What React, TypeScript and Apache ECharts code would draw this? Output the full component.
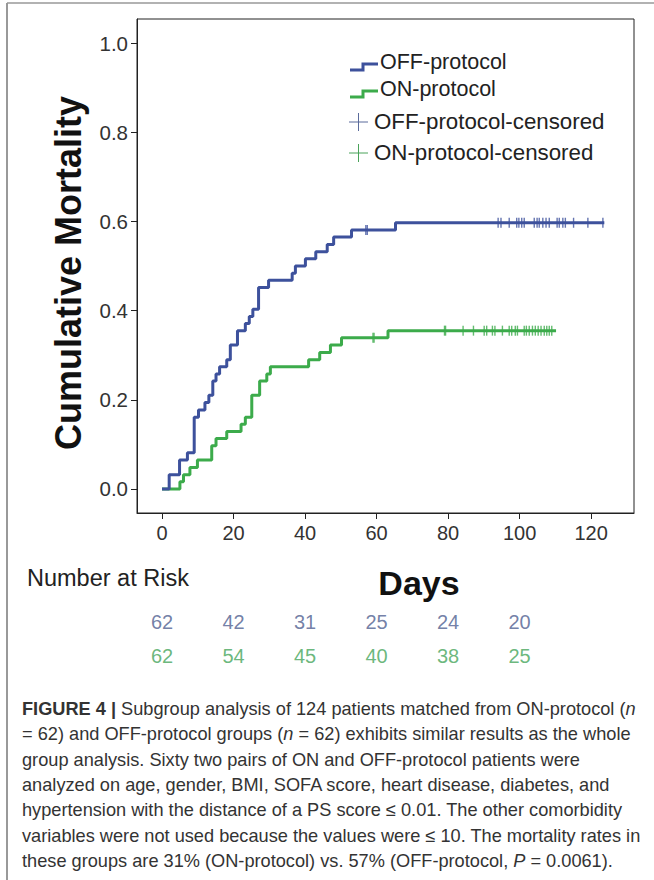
import React, { useEffect, useRef } from "react";
import * as echarts from "echarts";

// ---- Data ----
const X_TICKS = [0, 20, 40, 60, 80, 100, 120];
const Y_TICKS = [0, 0.2, 0.4, 0.6, 0.8, 1.0];

// OFF-protocol Kaplan-Meier cumulative mortality (step at event days)
const offDays = [0, 2.0, 4.9, 7.1, 9.0, 10.2, 12.0, 13.1, 14.2, 15.1, 16.1, 18.1, 19.1, 21.1, 23.3, 24.4, 25.4, 27.0, 29.8, 36.4, 37.3, 40.1, 43.0, 46.2, 48.0, 53.0, 65.3, 123.7];
const offMortality = [0, 0.032, 0.065, 0.081, 0.161, 0.177, 0.194, 0.21, 0.242, 0.258, 0.274, 0.29, 0.323, 0.355, 0.371, 0.387, 0.403, 0.452, 0.468, 0.484, 0.5, 0.516, 0.532, 0.548, 0.565, 0.581, 0.597, 0.597];

// ON-protocol
const onDays = [0, 5.0, 6.0, 7.8, 9.9, 13.9, 15.1, 18.1, 22.1, 23.3, 25.1, 27.3, 29.3, 30.3, 41.0, 44.1, 47.1, 50.2, 63.2, 110.2];
const onMortality = [0, 0.016, 0.032, 0.048, 0.065, 0.097, 0.113, 0.129, 0.145, 0.161, 0.21, 0.242, 0.258, 0.274, 0.29, 0.306, 0.323, 0.339, 0.355, 0.355];

// Censored observations (day, cumulative mortality at that time)
const offCensoredDays = [57.0, 57.4, 94.0, 94.8, 97.1, 99.2, 99.8, 100.6, 101.3, 104.1, 104.9, 105.5, 106.5, 107.4, 108.3, 110.5, 111.1, 112.1, 112.8, 115.1, 119.1, 123.3];
const offCensoredLevel = [0.581, 0.581, 0.597, 0.597, 0.597, 0.597, 0.597, 0.597, 0.597, 0.597, 0.597, 0.597, 0.597, 0.597, 0.597, 0.597, 0.597, 0.597, 0.597, 0.597, 0.597, 0.597];
const onCensoredDays = [59.0, 59.3, 79.0, 79.3, 84.2, 87.1, 90.1, 90.8, 92.4, 93.1, 95.2, 97.1, 97.8, 98.8, 99.4, 101.3, 101.9, 102.7, 103.6, 104.4, 105.2, 106.0, 106.9, 107.6, 108.3, 109.0];
const onCensoredLevel = [0.339, 0.339, 0.355, 0.355, 0.355, 0.355, 0.355, 0.355, 0.355, 0.355, 0.355, 0.355, 0.355, 0.355, 0.355, 0.355, 0.355, 0.355, 0.355, 0.355, 0.355, 0.355, 0.355, 0.355, 0.355, 0.355];

// Number at risk
const riskDays = [0, 20, 40, 60, 80, 100];
const offAtRisk = [62, 42, 31, 25, 24, 20];
const onAtRisk = [62, 54, 45, 40, 38, 25];

const BLUE = "#3d519c";
const GREEN = "#3cab4b";
const BLUE_TXT = "#4f6090";
const GREEN_TXT = "#45a55a";
const FONT = "'Liberation Sans', Arial, sans-serif";

const zip = (a: number[], b: number[]) => a.map((v, i) => [v, b[i]]);

export default function App() {
  const ref = useRef<HTMLDivElement>(null);
  useEffect(() => {
    if (!ref.current) return;
    const chart = echarts.init(ref.current, null, { renderer: "svg" });

    const CAP = 18.2;
    const capStyle = { fontFamily: FONT, fontSize: CAP, fill: "#333" };
    const capRich = {
      b: { fontFamily: FONT, fontSize: CAP, fontWeight: "bold", color: "#333" },
      i: { fontFamily: FONT, fontSize: CAP, fontStyle: "italic", color: "#333" },
    };
    const captionLines = [
      "{b|FIGURE 4 |} Subgroup analysis of 124 patients matched from ON-protocol ({i|n}",
      "= 62) and OFF-protocol groups ({i|n} = 62) exhibits similar results as the whole",
      "group analysis. Sixty two pairs of ON and OFF-protocol patients were",
      "analyzed on age, gender, BMI, SOFA score, heart disease, diabetes, and",
      "hypertension with the distance of a PS score ≤ 0.01. The other comorbidity",
      "variables were not used because the values were ≤ 10. The mortality rates in",
      "these groups are 31% (ON-protocol) vs. 57% (OFF-protocol, {i|P} = 0.0061).",
    ];

    const LEG = 21.5;
    const LEG2 = 22.3;
    const graphics: any[] = [
      // figure frame
      { type: "line", shape: { x1: 7, y1: 3, x2: 7, y2: 880 }, style: { stroke: "#999", lineWidth: 2 } },
      { type: "line", shape: { x1: 7, y1: 3, x2: 654, y2: 3 }, style: { stroke: "#999", lineWidth: 1.5 } },
      // legend
      { type: "polyline", shape: { points: [[350, 70], [363, 70], [363, 64], [378, 64]] }, style: { stroke: BLUE, lineWidth: 3, fill: "none" } },
      { type: "text", x: 380, y: 62, style: { text: "OFF-protocol", fontFamily: FONT, fontSize: LEG, fill: "#222", verticalAlign: "middle" } },
      { type: "polyline", shape: { points: [[350, 97], [363, 97], [363, 91], [378, 91]] }, style: { stroke: GREEN, lineWidth: 3, fill: "none" } },
      { type: "text", x: 380, y: 89, style: { text: "ON-protocol", fontFamily: FONT, fontSize: LEG, fill: "#222", verticalAlign: "middle" } },
      { type: "line", shape: { x1: 349, y1: 122, x2: 368, y2: 122 }, style: { stroke: "#5b6b9b", lineWidth: 1 } },
      { type: "line", shape: { x1: 358.5, y1: 113, x2: 358.5, y2: 131 }, style: { stroke: "#5b6b9b", lineWidth: 1 } },
      { type: "text", x: 374, y: 121, style: { text: "OFF-protocol-censored", fontFamily: FONT, fontSize: LEG2, fill: "#222", verticalAlign: "middle" } },
      { type: "line", shape: { x1: 349, y1: 153, x2: 368, y2: 153 }, style: { stroke: "#4aa35a", lineWidth: 1 } },
      { type: "line", shape: { x1: 358.5, y1: 144, x2: 358.5, y2: 162 }, style: { stroke: "#4aa35a", lineWidth: 1 } },
      { type: "text", x: 374, y: 152, style: { text: "ON-protocol-censored", fontFamily: FONT, fontSize: LEG2, fill: "#222", verticalAlign: "middle" } },
      // axis titles
      { type: "text", x: 68, y: 273, rotation: Math.PI / 2, style: { text: "Cumulative Mortality", fontFamily: FONT, fontSize: 36, fontWeight: "bold", fill: "#111", align: "center", verticalAlign: "middle" } },
      { type: "text", x: 419, y: 583, style: { text: "Days", fontFamily: FONT, fontSize: 34, fontWeight: "bold", fill: "#111", align: "center", verticalAlign: "middle" } },
      { type: "text", x: 27, y: 578, style: { text: "Number at Risk", fontFamily: FONT, fontSize: 23.5, fill: "#222", verticalAlign: "middle" } },
      // caption
      ...captionLines.map((t, i) => ({
        type: "text",
        x: 22,
        y: 709 + i * 25.3,
        style: { ...capStyle, text: t, rich: capRich, verticalAlign: "middle" },
      })),
    ];

    chart.setOption({
      animation: false,
      backgroundColor: "#fff",
      grid: [
        { left: 137, top: 19, right: 20, bottom: 367, show: true, borderColor: "#222", borderWidth: 1, backgroundColor: "transparent" },
        { left: 137, right: 20, top: 605, height: 68 },
      ],
      xAxis: [
        {
          type: "value", min: -7, max: 132, gridIndex: 0,
          splitLine: { show: false },
          axisLine: { onZero: false, lineStyle: { color: "#222", width: 1 } },
          axisTick: { show: true, length: 6, lineStyle: { color: "#222" }, customValues: X_TICKS },
          axisLabel: { customValues: X_TICKS, fontFamily: FONT, fontSize: 20, color: "#333", margin: 10 },
        },
        { type: "value", min: -7, max: 132, gridIndex: 1, show: false },
      ],
      yAxis: [
        {
          type: "value", min: -0.054, max: 1.054, gridIndex: 0,
          splitLine: { show: false },
          axisLine: { show: true, onZero: false, lineStyle: { color: "#222", width: 1 } },
          axisTick: { show: true, length: 6, lineStyle: { color: "#222" }, customValues: Y_TICKS },
          axisLabel: { customValues: Y_TICKS, formatter: (v: number) => v.toFixed(1), fontFamily: FONT, fontSize: 20.5, color: "#333", margin: 9 },
        },
        { type: "category", gridIndex: 1, data: ["OFF", "ON"], inverse: true, show: false },
      ],
      series: [
        { type: "line", name: "OFF-protocol", data: zip(offDays, offMortality), step: "end", symbol: "none", lineStyle: { color: BLUE, width: 3 }, z: 3 },
        { type: "line", name: "ON-protocol", data: zip(onDays, onMortality), step: "end", symbol: "none", lineStyle: { color: GREEN, width: 3 }, z: 2 },
        { type: "scatter", name: "OFF-protocol-censored", data: zip(offCensoredDays, offCensoredLevel), symbol: "rect", symbolSize: [1.4, 10], itemStyle: { color: BLUE }, z: 4 },
        { type: "scatter", name: "ON-protocol-censored", data: zip(onCensoredDays, onCensoredLevel), symbol: "rect", symbolSize: [1.4, 10], itemStyle: { color: GREEN }, z: 4 },
        {
          type: "scatter", xAxisIndex: 1, yAxisIndex: 1, symbolSize: 0,
          data: riskDays.map((d, i) => [d, 0, offAtRisk[i]]),
          label: { show: true, position: "inside", formatter: (p: any) => String(p.value[2]), fontFamily: FONT, fontSize: 20, color: BLUE_TXT },
        },
        {
          type: "scatter", xAxisIndex: 1, yAxisIndex: 1, symbolSize: 0,
          data: riskDays.map((d, i) => [d, 1, onAtRisk[i]]),
          label: { show: true, position: "inside", formatter: (p: any) => String(p.value[2]), fontFamily: FONT, fontSize: 20, color: GREEN_TXT },
        },
      ],
      graphic: graphics,
    });
    return () => chart.dispose();
  }, []);
  return <div ref={ref} style={{ position: "absolute", left: 0, top: 0, width: 654, height: 880 }} />;
}
